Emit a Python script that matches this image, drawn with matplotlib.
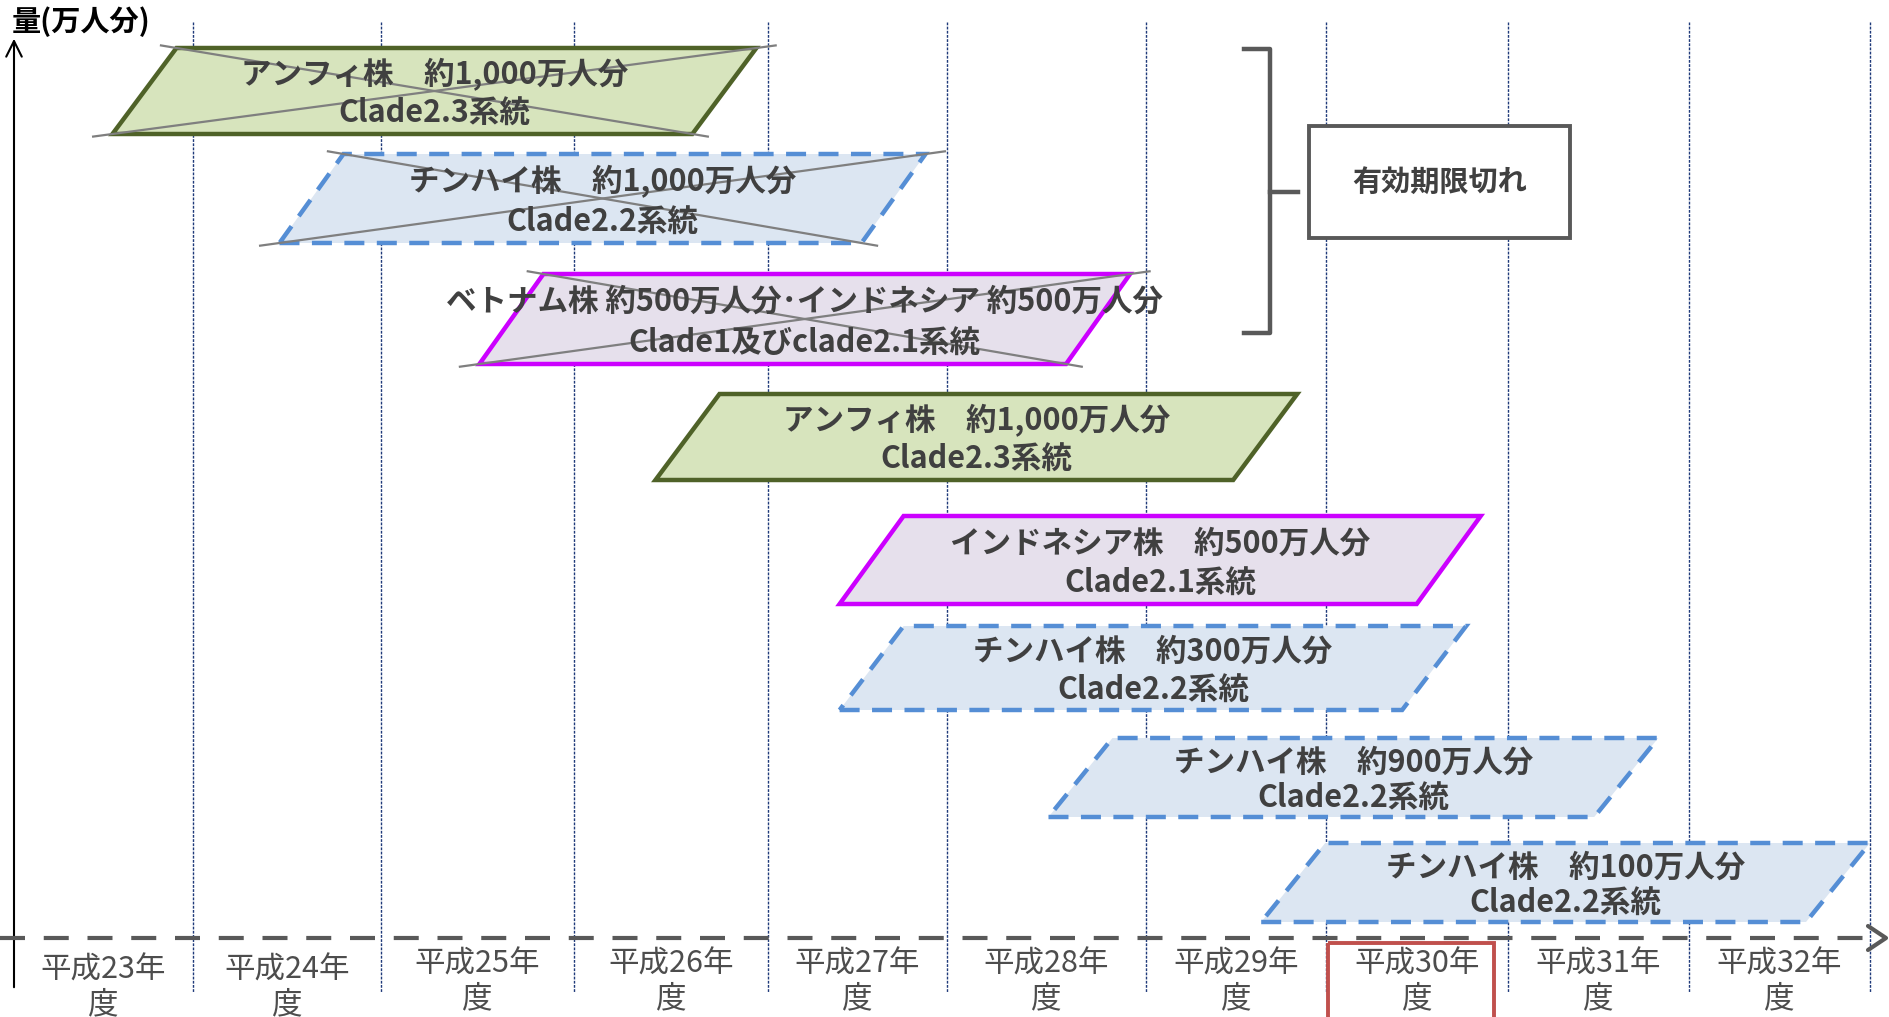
import numpy as np
import matplotlib
matplotlib.use("Agg")
from matplotlib import pyplot as plt
from matplotlib.patches import Polygon, Rectangle

plt.rcParams['font.family'] = ['Noto Sans CJK JP', 'DejaVu Sans']

# data
year_labels = ["平成23年", "平成24年", "平成25年", "平成26年", "平成27年",
               "平成28年", "平成29年", "平成30年", "平成31年", "平成32年"]
current_year = "平成30年"

line1 = ["アンフィ株　約1,000万人分",
         "チンハイ株　約1,000万人分",
         "ベトナム株 約500万人分･インドネシア 約500万人分",
         "アンフィ株　約1,000万人分",
         "インドネシア株　約500万人分",
         "チンハイ株　約300万人分",
         "チンハイ株　約900万人分",
         "チンハイ株　約100万人分"]
line2 = ["Clade2.3系統", "Clade2.2系統", "Clade1及びclade2.1系統", "Clade2.3系統",
         "Clade2.1系統", "Clade2.2系統", "Clade2.2系統", "Clade2.2系統"]
strain = ["anfi", "qinghai", "vietnam", "anfi", "indonesia", "qinghai", "qinghai", "qinghai"]
start_year = [0.55, 1.46, 2.51, 3.42, 4.40, 4.40, 5.51, 6.64]
end_year = [3.94, 4.88, 5.92, 6.84, 7.85, 7.77, 8.83, 10.0]
expired = [True, True, True, False, False, False, False, False]

# layout (pixels)
edges_px = [14, 193, 381, 574, 768, 947, 1146, 1326, 1508, 1689, 1870]
row_top = [48, 154, 274, 394, 516, 626, 738, 843]
row_bottom = [134, 243, 364, 480, 604, 710, 817, 922]
slant = 64
axis_y = 938

styles = {
    "anfi": dict(fc="#D7E4BD", ec="#4F6228", ls="-"),
    "qinghai": dict(fc="#DCE6F2", ec="#558ED5", ls=(0, (4.5, 2.8))),
    "vietnam": dict(fc="#E6E0EC", ec="#CC00FF", ls="-"),
    "indonesia": dict(fc="#E6E0EC", ec="#CC00FF", ls="-"),
}


def to_px(y):
    return np.interp(y, np.arange(len(edges_px)), edges_px)


fig = plt.figure(figsize=(18.9, 10.17), dpi=100)
ax = fig.add_axes([0, 0, 1, 1])
ax.set_xlim(0, 1890)
ax.set_ylim(1017, 0)
ax.axis("off")

# year dividers
ax.vlines(edges_px[1:], 22, 992, color="#1F3A7A", lw=1.0, ls=(0, (2, 1)), zorder=1)

# batches
for i in range(len(line1)):
    x0 = to_px(start_year[i])
    x1 = to_px(end_year[i])
    top, bot = row_top[i], row_bottom[i]
    st = styles[strain[i]]
    pts = [(x0, bot), (x1 - slant, bot), (x1, top), (x0 + slant, top)]
    ax.add_patch(Polygon(pts, closed=True, facecolor=st["fc"], edgecolor=st["ec"],
                         lw=3.2, ls=st["ls"], joinstyle="miter", zorder=2))
    h = bot - top
    xc = (x0 + x1) / 2
    ax.text(xc, top + 0.31 * h, line1[i], ha="center", va="center", fontsize=22,
            fontweight="bold", color="#404040", zorder=4)
    ax.text(xc, top + 0.77 * h, line2[i], ha="center", va="center", fontsize=22,
            fontweight="bold", color="#404040", zorder=4)
    if expired[i]:
        e = 0.03
        tl, br = np.array(pts[3]), np.array(pts[1])
        bl, tr = np.array(pts[0]), np.array(pts[2])
        a0, a1 = tl - e * (br - tl), br + e * (br - tl)
        b0, b1 = bl - e * (tr - bl), tr + e * (tr - bl)
        ax.plot([a0[0], a1[0]], [a0[1], a1[1]], color="#7F7F7F", lw=1.6, zorder=3)
        ax.plot([b0[0], b1[0]], [b0[1], b1[1]], color="#7F7F7F", lw=1.6, zorder=3)

# axes
ax.annotate("", xy=(14, 36), xytext=(14, 990),
            arrowprops=dict(arrowstyle="->", lw=1.5, color="black", mutation_scale=28))
ax.text(12, 22, "量(万人分)", ha="left", va="center", fontsize=21, fontweight="bold",
        color="black")
ax.plot([0, 1878], [axis_y, axis_y], color="#595959", lw=3, ls=(0, (6, 4.5)), zorder=3)
ax.plot([1868, 1886, 1868], [axis_y - 12, axis_y, axis_y + 12], color="#595959",
        lw=3, solid_capstyle="round", zorder=3)

# year labels
for k, lab in enumerate(year_labels):
    xc = (edges_px[k] + edges_px[k + 1]) / 2
    dy = 6 if k < 2 else 0
    ax.text(xc, 964 + dy, lab, ha="center", va="center", fontsize=22, color="#4D4D4D")
    ax.text(xc, 999 + dy, "度", ha="center", va="center", fontsize=22, color="#4D4D4D")
    if lab == current_year:
        ax.add_patch(Rectangle((1328, 943), 166, 80, fill=False, ec="#C0504D", lw=2.8,
                               zorder=4))

# expired bracket
ax.plot([1244, 1270, 1270, 1244], [49, 49, 333, 333], color="#595959", lw=3.2)
ax.plot([1270, 1298], [192, 192], color="#595959", lw=3.2)
ax.add_patch(Rectangle((1309, 126), 261, 112, facecolor="white", ec="#595959", lw=2.8))
ax.text(1440, 182, "有効期限切れ", ha="center", va="center", fontsize=21,
        fontweight="bold", color="#404040")

fig.savefig("out.png", dpi=100)
